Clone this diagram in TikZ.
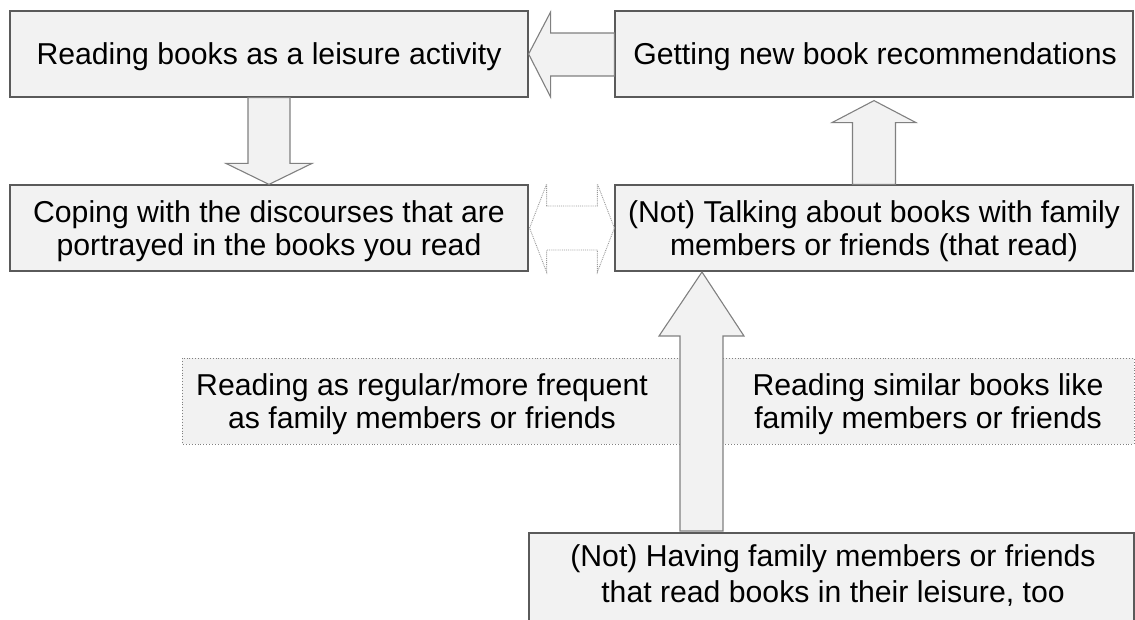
\documentclass[tikz,border=0pt]{standalone}
\usepackage{fontspec}
\setmainfont{Liberation Sans}
\usetikzlibrary{calc}
\definecolor{boxfill}{HTML}{F2F2F2}
\definecolor{boxline}{HTML}{5A5A5A}
\definecolor{arrline}{HTML}{808080}
\tikzset{
  txt/.style={align=center, font=\fontsize{30.2}{33}\selectfont, inner sep=0pt},
  boxnode/.style={txt, draw=boxline, fill=boxfill, line width=1.2pt,
    minimum width=518pt, minimum height=86pt},
  dotrect/.style={draw=arrline, fill=boxfill, dotted, line width=0.9pt},
  blockarrow/.style={draw=arrline, fill=boxfill, line width=1.1pt, line join=miter},
  hollowarrow/.style={draw=arrline!80, fill=white, densely dotted, line width=0.9pt, line join=miter},
}
\begin{document}
\begin{tikzpicture}[x=1pt, y=-1pt]
\useasboundingbox (0,0) rectangle (1135,619);
\clip (0,0) rectangle (1135,619);

% boxes (text sits slightly below centre)
\draw[boxline, fill=boxfill, line width=1.2pt] (10,11) rectangle (528,97);
\node[boxnode, draw=none, fill=none] (b1) at (269,54) {};
\node[txt] (t1) at (269,57) {Reading books as a leisure activity};
\draw[boxline, fill=boxfill, line width=1.2pt] (615,11) rectangle (1133,97);
\node[boxnode, draw=none, fill=none] (b2) at (874,54) {};
\node[txt] (t2) at (875,57) {Getting new book recommendations};
\draw[boxline, fill=boxfill, line width=1.2pt] (10,185) rectangle (528,271);
\node[boxnode, draw=none, fill=none] (b3) at (269,228) {};
\node[txt] (t3) at (269,231) {Coping with the discourses that are\\portrayed in the books you read};
\draw[boxline, fill=boxfill, line width=1.2pt] (615,185) rectangle (1133,271);
\node[boxnode, draw=none, fill=none] (b4) at (874,228) {};
\node[txt] (t4) at (874,231) {(Not) Talking about books with family\\members or friends (that read)};
\coordinate (b4t) at (702,271);

% shared dotted band with the two reading conditions
\draw[dotrect] (182,358) rectangle (1134,444);
\node[txt] (c1) at (422,404) {Reading as regular/more frequent\\as family members or friends};
\node[txt] (c2) at (928,404) {Reading similar books like\\family members or friends};

% bottom box, running off the lower edge
\draw[boxline, fill=boxfill, line width=1.2pt] (529,533) rectangle (1134,640);
\node[txt, font=\fontsize{30.2}{36}\selectfont] (b5) at (833,575) {(Not) Having family members or friends\\that read books in their leisure, too};
\coordinate (b5n) at (702,531);

% block arrows
\draw[blockarrow] (b1.east) -- ++(22,-42) -- ++(0,21) -- ($(b2.west)+(0,-21)$) -- ($(b2.west)+(0,22)$)
  -- ($(b1.east)+(22,22)$) -- ($(b1.east)+(22,43)$) -- cycle;

\draw[blockarrow] (b3.north) -- ++(-43,-21) -- ++(22,0) -- ($(b1.south)+(-21,0)$) -- ($(b1.south)+(21,0)$)
  -- ($(b3.north)+(21,-21)$) -- ($(b3.north)+(43,-21)$) -- cycle;

\draw[blockarrow] ($(b2.south)+(0,3)$) -- ++(-42,22) -- ++(20.5,0) -- ($(b4.north)+(-21.5,0)$) -- ($(b4.north)+(21.5,0)$)
  -- ($(b2.south)+(21.5,25)$) -- ($(b2.south)+(42,25)$) -- cycle;

\draw[hollowarrow] ($(b3.east)+(1,0)$) -- ++(17,-44) -- ++(0,22) -- ($(b4.west)+(-17,-22)$) -- ($(b4.west)+(-17,-44)$)
  -- (b4.west) -- ($(b4.west)+(-17,44)$) -- ($(b4.west)+(-17,22)$) -- ($(b3.east)+(18,22)$) -- ($(b3.east)+(18,44)$) -- cycle;

\draw[blockarrow] ($(b4t)+(0,1)$) -- ++(-43,64) -- ++(21,0) -- ($(b5n)+(-22,0)$) -- ($(b5n)+(21,0)$)
  -- ($(b4t)+(21,65)$) -- ($(b4t)+(42,65)$) -- cycle;
\end{tikzpicture}
\end{document}
